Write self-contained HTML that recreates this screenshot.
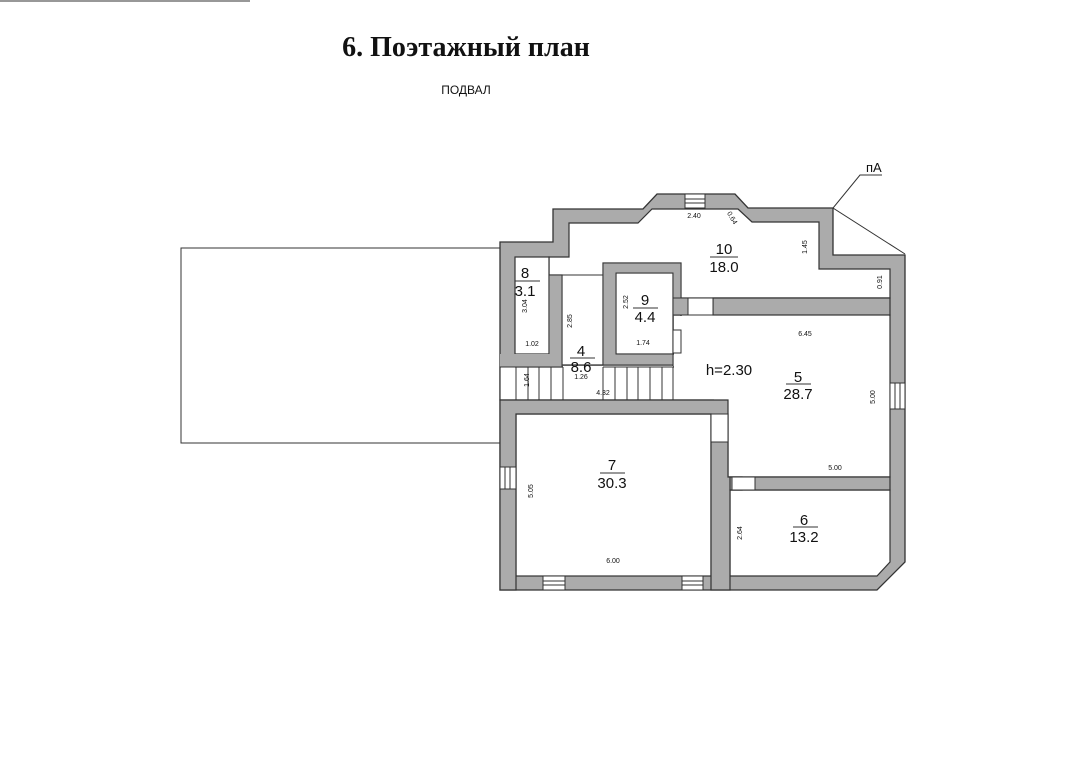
<!DOCTYPE html>
<html><head><meta charset="utf-8"><style>
html,body{margin:0;padding:0;background:#fff;}
svg{display:block;}
text{font-family:"Liberation Sans",sans-serif;fill:#111;}
</style></head><body>
<svg width="1080" height="767" viewBox="0 0 1080 767" xmlns="http://www.w3.org/2000/svg">
<rect width="1080" height="767" fill="#fff"/>
<line x1="0" y1="1" x2="250" y2="1" stroke="#777" stroke-width="1.5"/>
<text x="466" y="56" text-anchor="middle" style="font-family:'Liberation Serif',serif;font-weight:bold;font-size:28px">6. Поэтажный план</text>
<text x="466" y="94" text-anchor="middle" style="font-size:12px">ПОДВАЛ</text>

<rect x="181" y="248" width="319" height="195" fill="none" stroke="#333" stroke-width="1"/>

<polygon points="500,242 553,242 553,209 643,209 657,194 735,194 748,208 833,208 833,255 905,255 905,562 877,590 500,590" fill="#ababab" stroke="#333" stroke-width="1.3"/>

<g fill="#fff" stroke="#333" stroke-width="1.2">
<polygon points="569,223 638,223 652,209 738,209 752,222 819,222 819,269 890,269 890,298 681,298 681,263 603,263 603,365 562,365 562,275 549,275 549,257 569,257"/>
<polygon points="681,315 890,315 890,477 728,477 728,414 715,414 715,400 673,400 673,354 681,354"/>
<rect x="500" y="367" width="215" height="33"/>
<rect x="515" y="257" width="34" height="97"/>
<rect x="616" y="273" width="57" height="81"/>
<rect x="516" y="414" width="195" height="162"/>
<polygon points="730,490 890,490 890,562 877,576 730,576"/>
</g>
<g fill="#fff" stroke="none">
<rect x="682" y="299" width="207" height="17"/>
<rect x="674" y="316" width="8" height="37"/>
<rect x="563" y="366" width="110" height="2"/>
<rect x="501" y="366" width="14" height="2"/>
<rect x="674" y="353" width="53" height="46"/>
<rect x="714" y="399" width="13" height="16"/>
</g>
<rect x="713" y="298" width="177" height="17" fill="#ababab" stroke="#333" stroke-width="1.2"/>
<rect x="688" y="298" width="25" height="17" fill="#fff" stroke="#333" stroke-width="1"/>
<rect x="673" y="298" width="15" height="17" fill="#ababab" stroke="#333" stroke-width="1"/>
<rect x="549" y="275" width="13" height="90" fill="#ababab" stroke="#333" stroke-width="1"/>
<rect x="500" y="354" width="62" height="13" fill="#ababab" stroke="none"/>
<line x1="500" y1="367" x2="562" y2="367" stroke="#333"/>
<line x1="562" y1="275" x2="603" y2="275" stroke="#333"/>
<polygon points="603,263 681,263 681,298 673,298 673,273 616,273 616,354 673,354 673,365 603,365" fill="#ababab" stroke="#333" stroke-width="1"/>
<line x1="603" y1="367" x2="673" y2="367" stroke="#333"/>
<rect x="673" y="330" width="8" height="23" fill="#fff" stroke="#333" stroke-width="1"/>
<polygon points="500,400 728,400 728,477 742,477 742,490 730,490 730,590 711,590 711,414 516,414 516,590 500,590" fill="#ababab" stroke="#333" stroke-width="1.2"/>
<rect x="711" y="414" width="17" height="28" fill="#fff" stroke="#333" stroke-width="1"/>
<rect x="730" y="477" width="160" height="13" fill="#ababab" stroke="#333" stroke-width="1.2"/>
<rect x="732" y="477" width="23" height="13" fill="#fff" stroke="#333" stroke-width="1"/>
<line x1="500" y1="367" x2="500" y2="400" stroke="#333"/>
<g stroke="#333" stroke-width="1">
<line x1="516" y1="367" x2="516" y2="400"/><line x1="528" y1="367" x2="528" y2="400"/>
<line x1="539" y1="367" x2="539" y2="400"/><line x1="551" y1="367" x2="551" y2="400"/>
<line x1="563" y1="367" x2="563" y2="400"/><line x1="603" y1="367" x2="603" y2="400"/>
<line x1="615" y1="367" x2="615" y2="400"/><line x1="627" y1="367" x2="627" y2="400"/>
<line x1="638" y1="367" x2="638" y2="400"/><line x1="650" y1="367" x2="650" y2="400"/>
<line x1="662" y1="367" x2="662" y2="400"/><line x1="673" y1="367" x2="673" y2="400"/>
<line x1="562" y1="275" x2="562" y2="367"/>
</g>
<g fill="#fff" stroke="#333" stroke-width="1">
<rect x="685" y="194" width="20" height="14"/>
<line x1="685" y1="199" x2="705" y2="199"/><line x1="685" y1="203" x2="705" y2="203"/>
<rect x="890" y="383" width="15" height="26"/>
<line x1="895" y1="383" x2="895" y2="409"/><line x1="900" y1="383" x2="900" y2="409"/>
<rect x="500" y="467" width="16" height="22"/>
<line x1="505" y1="467" x2="505" y2="489"/><line x1="510" y1="467" x2="510" y2="489"/>
<rect x="543" y="576" width="22" height="14"/>
<line x1="543" y1="581" x2="565" y2="581"/><line x1="543" y1="585" x2="565" y2="585"/>
<rect x="682" y="576" width="21" height="14"/>
<line x1="682" y1="581" x2="703" y2="581"/><line x1="682" y1="585" x2="703" y2="585"/>
</g>
<polyline points="905,254 833,208 860,175 882,175" fill="none" stroke="#333" stroke-width="1"/>
<text x="866" y="172" style="font-size:13px">пА</text>

<g text-anchor="middle" style="font-size:15px">
<text x="724" y="254">10</text><text x="724" y="272">18.0</text>
<line x1="710" y1="257" x2="738" y2="257" stroke="#333"/>
<text x="525" y="278">8</text><text x="525" y="296">3.1</text>
<line x1="515" y1="281" x2="540" y2="281" stroke="#333"/>
<text x="645" y="305">9</text><text x="645" y="322">4.4</text>
<line x1="633" y1="308" x2="658" y2="308" stroke="#333"/>
<text x="581" y="356">4</text><text x="581" y="372">8.6</text>
<line x1="570" y1="358" x2="595" y2="358" stroke="#333"/>
<text x="798" y="382">5</text><text x="798" y="399">28.7</text>
<line x1="786" y1="384" x2="811" y2="384" stroke="#333"/>
<text x="612" y="470">7</text><text x="612" y="488">30.3</text>
<line x1="600" y1="473" x2="625" y2="473" stroke="#333"/>
<text x="804" y="525">6</text><text x="804" y="542">13.2</text>
<line x1="793" y1="527" x2="818" y2="527" stroke="#333"/>
<text x="729" y="375" style="font-size:15px">h=2.30</text>
</g>
<g style="font-size:7px" text-anchor="middle">
<text x="694" y="218">2.40</text>
<text x="732" y="220" transform="rotate(60 732 218)">0.64</text>
<text x="808" y="250" transform="rotate(-90 806 249)">1.45</text>
<text x="882" y="286" transform="rotate(-90 880 284)">0.91</text>
<text x="527" y="310" transform="rotate(-90 525 308)">3.04</text>
<text x="532" y="346">1.02</text>
<text x="572" y="325" transform="rotate(-90 570 323)">2.85</text>
<text x="628" y="306" transform="rotate(-90 626 304)">2.52</text>
<text x="643" y="345">1.74</text>
<text x="581" y="379">1.26</text>
<text x="529" y="384" transform="rotate(-90 527 382)">1.64</text>
<text x="603" y="395">4.32</text>
<text x="805" y="336">6.45</text>
<text x="875" y="401" transform="rotate(-90 873 399)">5.00</text>
<text x="835" y="470">5.00</text>
<text x="533" y="495" transform="rotate(-90 531 493)">5.05</text>
<text x="613" y="563">6.00</text>
<text x="742" y="537" transform="rotate(-90 740 535)">2.64</text>
</g>
</svg>
</body></html>
